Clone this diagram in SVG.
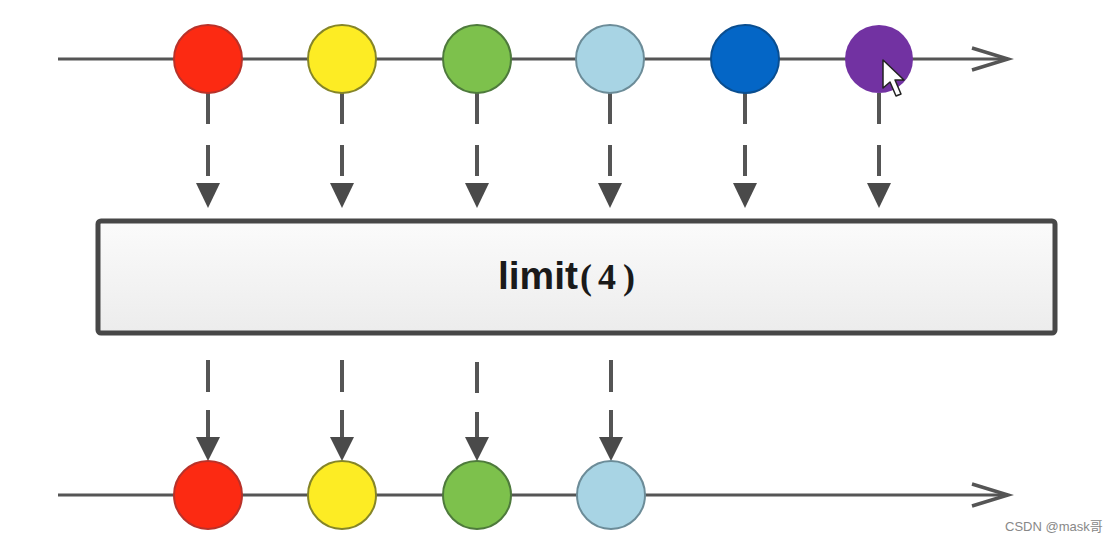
<svg xmlns="http://www.w3.org/2000/svg" width="1114" height="543" viewBox="0 0 1114 543">
<defs>
<style>
.axis{stroke:#555;stroke-width:3;fill:none}
.chev{stroke:#555;stroke-width:3.5;fill:none;stroke-linejoin:miter}
.dash{stroke:#555;stroke-width:4;fill:none}
.tri{fill:#4a4a4a}
.c{stroke-width:2}
.lbl{font-family:"Liberation Sans","DejaVu Sans",sans-serif;font-weight:bold;font-size:39px;fill:#1a1a1a}
.par{font-family:"Liberation Serif","DejaVu Serif",serif;font-weight:bold;font-size:36px}
.wm{font-family:"Liberation Sans","Noto Sans CJK SC",sans-serif;font-size:13px;fill:#888}
</style>
<linearGradient id="boxg" x1="0" y1="0" x2="0" y2="1">
<stop offset="0" stop-color="#fbfbfb"/>
<stop offset="1" stop-color="#ececec"/>
</linearGradient>
</defs>
<rect width="1114" height="543" fill="#fff"/>
<g id="connectors">
<line class="axis" x1="58" y1="59" x2="1008" y2="59"/>
<polyline class="chev" points="972,48 1008,59 972,70"/>
<line class="axis" x1="58" y1="495" x2="1008" y2="495"/>
<polyline class="chev" points="972,484 1008,495 972,506"/>
<g id="top-arrows">
<path class="dash" d="M208 93V124M208 145V176"/><polygon class="tri" points="196,183 220,183 208,208"/>
<path class="dash" d="M342 93V124M342 145V176"/><polygon class="tri" points="330,183 354,183 342,208"/>
<path class="dash" d="M477 93V124M477 145V176"/><polygon class="tri" points="465,183 489,183 477,208"/>
<path class="dash" d="M610 93V124M610 145V176"/><polygon class="tri" points="598,183 622,183 610,208"/>
<path class="dash" d="M745 93V124M745 145V176"/><polygon class="tri" points="733,183 757,183 745,208"/>
<path class="dash" d="M879 93V124M879 145V176"/><polygon class="tri" points="867,183 891,183 879,208"/>
</g>
<g id="bottom-arrows">
<path class="dash" d="M208 360V392M208 410V440"/><polygon class="tri" points="196,437 220,437 208,461"/>
<path class="dash" d="M342 360V392M342 410V440"/><polygon class="tri" points="330,437 354,437 342,461"/>
<path class="dash" d="M477 362V393M477 412V440"/><polygon class="tri" points="465,437 489,437 477,461"/>
<path class="dash" d="M611 360V392M611 410V440"/><polygon class="tri" points="599,437 623,437 611,461"/>
</g>
</g>
<g id="top-red"><circle class="c" cx="208" cy="59" r="34" fill="#fc2a12" stroke="#b8322a"/></g>
<g id="top-yellow"><circle class="c" cx="342" cy="59" r="34" fill="#fdec24" stroke="#858528"/></g>
<g id="top-green"><circle class="c" cx="477" cy="59" r="34" fill="#7dc14c" stroke="#4e7a3c"/></g>
<g id="top-lightblue"><circle class="c" cx="610" cy="59" r="34" fill="#a8d4e4" stroke="#6c8c98"/></g>
<g id="top-blue"><circle class="c" cx="745" cy="59" r="34" fill="#0466c6" stroke="#0a4e90"/></g>
<g id="top-purple"><circle cx="879" cy="59" r="34" fill="#7232a2"/></g>
<g id="cursor"><polygon points="883,60 883,88 890,82 896,96 901,94 895,80 904,80" fill="#fff" stroke="#222" stroke-width="1.5" stroke-linejoin="round"/></g>
<g id="limit">
<rect x="98" y="221" width="957" height="112" rx="3" fill="url(#boxg)" stroke="#474747" stroke-width="5"/>
<text class="lbl" x="498" y="289" textLength="80" lengthAdjust="spacingAndGlyphs">limit</text>
<text class="lbl par" y="289"><tspan x="580">(</tspan><tspan x="598">4</tspan><tspan x="623">)</tspan></text>
</g>
<g id="bottom-red"><circle class="c" cx="208" cy="495" r="34" fill="#fc2a12" stroke="#b8322a"/></g>
<g id="bottom-yellow"><circle class="c" cx="342" cy="495" r="34" fill="#fdec24" stroke="#858528"/></g>
<g id="bottom-green"><circle class="c" cx="477" cy="495" r="34" fill="#7dc14c" stroke="#4e7a3c"/></g>
<g id="bottom-lightblue"><circle class="c" cx="611" cy="495" r="34" fill="#a8d4e4" stroke="#6c8c98"/></g>
<text class="wm" x="1005" y="531">CSDN @mask哥</text>
</svg>
